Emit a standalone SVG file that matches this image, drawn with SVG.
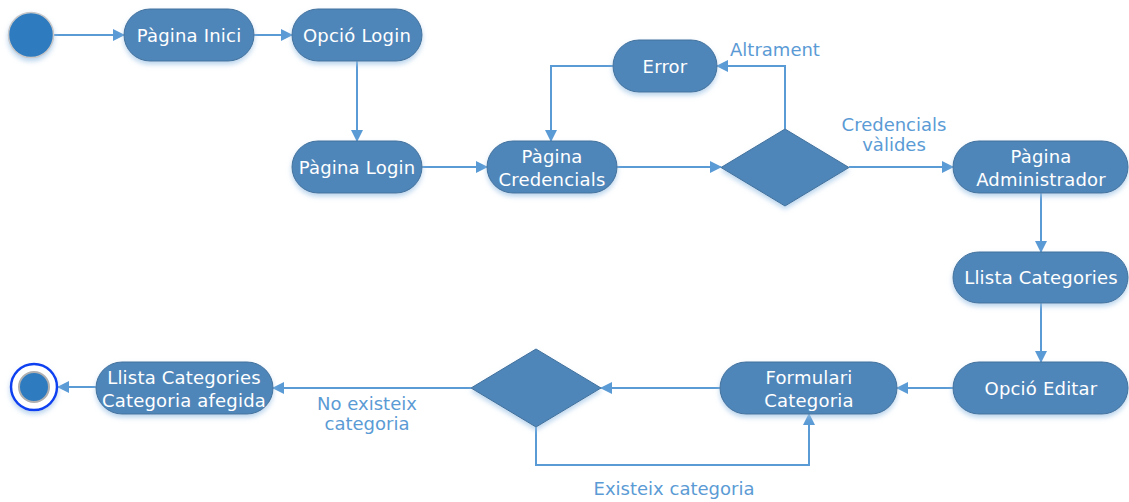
<svg xmlns="http://www.w3.org/2000/svg" width="1129" height="502" viewBox="0 0 1129 502">
  <defs>
    <filter id="shadow" x="-20%" y="-20%" width="140%" height="160%">
      <feGaussianBlur in="SourceAlpha" stdDeviation="2.5"/>
      <feOffset dx="0" dy="3" result="b"/>
      <feFlood flood-color="#9dc3e6" flood-opacity="0.7"/>
      <feComposite in2="b" operator="in"/>
      <feMerge><feMergeNode/><feMergeNode in="SourceGraphic"/></feMerge>
    </filter>
    <marker id="arrow" viewBox="0 0 12 12" refX="11" refY="6" markerWidth="12" markerHeight="12" markerUnits="userSpaceOnUse" orient="auto">
      <path d="M0,0 L12,6 L0,12 Z" fill="#5b9bd5"/>
    </marker>
  </defs>
  <style>
    .node { fill: #4f86b9; stroke: #41719c; stroke-width: 1; filter: url(#shadow); }
    .label { font-family: "DejaVu Sans", Verdana, sans-serif; font-size: 18px; letter-spacing: 0.2px; fill: #ffffff; text-anchor: middle; }
    .edge { fill: none; stroke: #5b9bd5; stroke-width: 2; marker-end: url(#arrow); }
    .elabel { font-family: "DejaVu Sans", Verdana, sans-serif; font-size: 18px; fill: #5b9bd5; text-anchor: middle; }
  </style>

  <g id="connectors">
    <path class="edge" d="M53,35 H124"/>
    <path class="edge" d="M254,35 H292"/>
    <path class="edge" d="M357,61 V141"/>
    <path class="edge" d="M422,167 H487"/>
    <path class="edge" d="M617,167 H721"/>
    <path class="edge" d="M785,129 V66 H717"/>
    <path class="edge" d="M613,66 H551 V141"/>
    <path class="edge" d="M849,167 H953"/>
    <path class="edge" d="M1041,193 V252"/>
    <path class="edge" d="M1041,303 V362"/>
    <path class="edge" d="M953,388 H897"/>
    <path class="edge" d="M720,388 H601"/>
    <path class="edge" d="M536,427 V465 H809 V414"/>
    <path class="edge" d="M471,388 H273"/>
    <path class="edge" d="M96,387 H58"/>
    <text class="elabel" x="775" y="56">Altrament</text>
    <text class="elabel" x="894" y="131">Credencials</text>
    <text class="elabel" x="894" y="151">vàlides</text>
    <text class="elabel" x="674" y="495">Existeix categoria</text>
    <text class="elabel" x="367" y="410">No existeix</text>
    <text class="elabel" x="367" y="430">categoria</text>
  </g>

  <g id="start">
    <circle cx="31" cy="35" r="22.5" fill="#2f7bbf" stroke="#c8c8c8" stroke-width="1.5" filter="url(#shadow)"/>
  </g>

  <g id="pagina-inici">
    <rect class="node" x="124" y="9" width="130" height="52" rx="26"/>
    <text class="label" x="189" y="42">Pàgina Inici</text>
  </g>

  <g id="opcio-login">
    <rect class="node" x="292" y="9" width="130" height="52" rx="26"/>
    <text class="label" x="357" y="42">Opció Login</text>
  </g>

  <g id="pagina-login">
    <rect class="node" x="292" y="141" width="130" height="52" rx="26"/>
    <text class="label" x="357" y="174">Pàgina Login</text>
  </g>

  <g id="pagina-credencials">
    <rect class="node" x="487" y="141" width="130" height="52" rx="26"/>
    <text class="label" x="552" y="163">Pàgina</text>
    <text class="label" x="552" y="186">Credencials</text>
  </g>

  <g id="error">
    <rect class="node" x="613" y="40" width="104" height="52" rx="26"/>
    <text class="label" x="665" y="73">Error</text>
  </g>

  <g id="decisio-credencials">
    <polygon class="node" points="785,129 849,167.5 785,206 721,167.5"/>
  </g>

  <g id="pagina-administrador">
    <rect class="node" x="953" y="141" width="175" height="52" rx="26"/>
    <text class="label" x="1041" y="163">Pàgina</text>
    <text class="label" x="1041" y="186">Administrador</text>
  </g>

  <g id="llista-categories">
    <rect class="node" x="953" y="252" width="175" height="51" rx="25.5"/>
    <text class="label" x="1041" y="284">Llista Categories</text>
  </g>

  <g id="opcio-editar">
    <rect class="node" x="953" y="362" width="175" height="52" rx="26"/>
    <text class="label" x="1041" y="395">Opció Editar</text>
  </g>

  <g id="formulari-categoria">
    <rect class="node" x="720" y="362" width="177" height="52" rx="26"/>
    <text class="label" x="809" y="384">Formulari</text>
    <text class="label" x="809" y="407">Categoria</text>
  </g>

  <g id="decisio-categoria">
    <polygon class="node" points="536,349 601,388 536,427 471,388"/>
  </g>

  <g id="llista-categoria-afegida">
    <rect class="node" x="96" y="362" width="177" height="52" rx="26"/>
    <text class="label" x="184" y="384">Llista Categories</text>
    <text class="label" x="184" y="407">Categoria afegida</text>
  </g>

  <g id="final">
    <circle cx="34" cy="387" r="23" fill="#ffffff" stroke="#0a3ff0" stroke-width="2.5" filter="url(#shadow)"/>
    <circle cx="34" cy="387" r="15" fill="#2f7bbf" stroke="#b0b0b0" stroke-width="2"/>
  </g>
</svg>
